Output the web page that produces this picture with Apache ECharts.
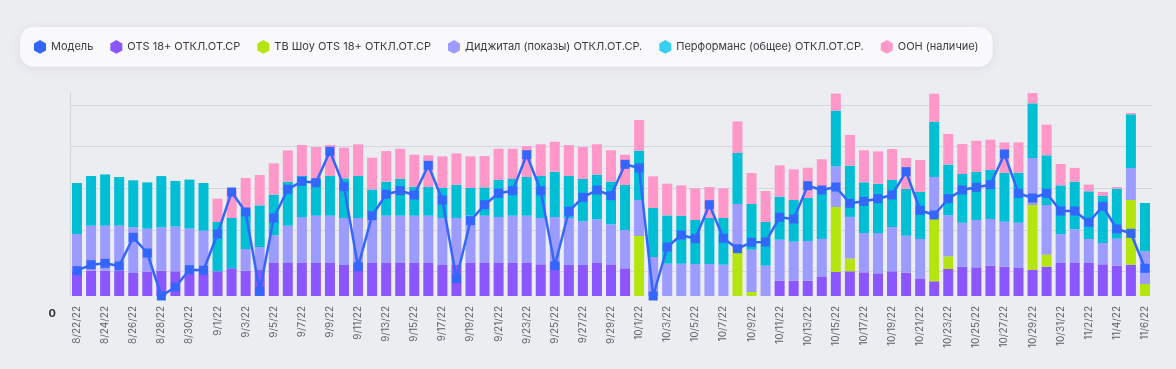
<!DOCTYPE html>
<html><head><meta charset="utf-8">
<script src="https://cdn.jsdelivr.net/npm/echarts@6/dist/echarts.min.js"></script>
<style>html,body{margin:0;padding:0;background:#ECEDF1;} #c{width:1176px;height:369px;}</style>
</head><body><div id="c"></div>
<script>
const dates = ['8/22/22','8/23/22','8/24/22','8/25/22','8/26/22','8/27/22','8/28/22','8/29/22','8/30/22','8/31/22',
'9/1/22','9/2/22','9/3/22','9/4/22','9/5/22','9/6/22','9/7/22','9/8/22','9/9/22','9/10/22',
'9/11/22','9/12/22','9/13/22','9/14/22','9/15/22','9/16/22','9/17/22','9/18/22','9/19/22','9/20/22',
'9/21/22','9/22/22','9/23/22','9/24/22','9/25/22','9/26/22','9/27/22','9/28/22','9/29/22','9/30/22',
'10/1/22','10/2/22','10/3/22','10/4/22','10/5/22','10/6/22','10/7/22','10/8/22','10/9/22','10/10/22',
'10/11/22','10/12/22','10/13/22','10/14/22','10/15/22','10/16/22','10/17/22','10/18/22','10/19/22','10/20/22',
'10/21/22','10/22/22','10/23/22','10/24/22','10/25/22','10/26/22','10/27/22','10/28/22','10/29/22','10/30/22',
'10/31/22','11/1/22','11/2/22','11/3/22','11/4/22','11/5/22','11/6/22'];

const ots = [24.7,25.3,25.3,25.3,23,24.3,25.3,24.7,22.7,22,
24.7,27.7,25.3,26,33,33,33,33,33,31,
32,33,33,33,33,33,31,31,33,33,
33,33,33,31.7,33,31,31,33,31,27.7,
0,0,0,0,0,0,0,0,0,0,
15.3,15.3,15.3,19,24,24.7,23.7,22.7,24.7,23.3,
17,14.7,27,29.3,28.7,30.3,29.3,28,26.3,29.3,
33,33,33,31.7,30.3,31.3,0];

const tvShow = [0,0,0,0,0,0,0,0,0,0,
0,0,0,0,0,0,0,0,0,0,
0,0,0,0,0,0,0,0,0,0,
0,0,0,0,0,0,0,0,0,0,
60,0,0,0,0,0,0,47,4,0,
0,0,0,0,65,12.7,0,0,0,0,
0,64,12.7,0,0,0,0,0,64.7,12,
0,0,0,0,0,64.7,12];

const digital = [37.3,45,45,45,45.7,43,43.3,44.7,44.7,43.3,
0,0,21.7,23,27.7,37.3,46,47.3,47.3,47,
46,47.3,47.3,47.3,47.3,47.3,47,47,47.3,47.3,
46,47.3,47.3,46.3,46,47,43.7,43.7,40.7,38.3,
36,39,32.3,32.3,32,32,31.3,45,42.3,30.3,
41,39,39.7,38,40.7,41.7,39.3,40.3,44.3,37,
40,40.3,41,44,47.3,46.7,45,45.3,47,49.7,
28.7,33.7,24,21.3,27,32,32.7];

const performance = [51,49.7,51.3,48.7,47,46.3,51.3,45.7,49,47.7,
49.3,50.3,40.3,41.7,40.7,44,41,37.3,39.7,39.7,
42,26.3,34,36.7,29,28.7,30,33.3,27.7,28.3,
37,36.7,38.7,42,45.3,42,42.3,44.7,42.7,45,
49.3,49,48.3,48,44,46,46.7,51,45.7,43.7,
43,41.7,43,49,55.7,51.3,50.7,49.3,47,46.7,
47,55.3,50.7,48.7,48,49,49,50,54.7,49.7,
49,47.7,47.7,47.3,50,53.7,48.3];

const ooh = [0,0,0,0,0,0,0,0,0,0,
23.3,28,30.7,30.3,31.3,31.3,31,31.3,31,30.7,
31.7,31.7,30.7,30.3,32,31.7,31.7,31.3,31.7,31.3,
31.3,30.3,31,31.7,30,31,32,30.3,31.3,30.3,
30.7,31.7,31.7,30.3,31.7,31,29.7,31.7,31,31,
31.3,30.7,30.3,30.7,17,30.7,32,32.3,31,31,
32,28,30.7,30,31.3,30.3,30.3,30.3,10.3,30.7,
21.3,13.7,6.7,3.7,1.7,1.3,0];

const model = [25.3,31.3,32.7,30,58.7,43,0,9,26.3,25.7,
62,104,84,4.7,78,106.7,114.7,113.3,144.7,109.3,
29.3,80.3,101.7,105.3,101,130.7,96,17.3,75.3,91.3,
102.7,105.3,141.3,105.3,30.3,84.7,98.7,106,100.3,131.7,
128,0,49,61,57.3,91.3,57.7,47.3,53.7,54,
78.7,77,110.3,106,109,92.7,94.7,97.3,101,124.3,
85.7,81,97.3,106,108.7,111.3,142,102.7,98,102.7,
85,85,73.7,89.7,67,62.7,27.7];

const names = ['Модель','OTS 18+ ОТКЛ.ОТ.СР','ТВ Шоу OTS 18+ ОТКЛ.ОТ.СР','Диджитал (показы) ОТКЛ.ОТ.СР.','Перформанс (общее) ОТКЛ.ОТ.СР.','ООН (наличие)'];
const colors = ['#3366FF','#8B55FF','#B4E50E','#9C9BFF','#00BFD5','#FF97C9'];
const legendColors = ['#3366FF','#8B55FF','#B4E50E','#9C9BFF','#38D0F0','#FF97C9'];

const hex = 'path://M50,0 L93.3,25 L93.3,75 L50,100 L6.7,75 L6.7,25 Z';
const chart = echarts.init(document.getElementById('c'), null, {renderer: 'canvas'});

function barSeries(i, data) {
  return {
    name: names[i], type: 'bar', stack: 'total', data: data,
    xAxisIndex: 0, yAxisIndex: 0, barWidth: 10,
    itemStyle: {color: colors[i]}, emphasis: {disabled: true}
  };
}

chart.setOption({
  backgroundColor: '#ECEDF1',
  animation: false,
  legend: {
    left: 20, top: 27, padding: [13, 14], itemGap: 17, itemWidth: 12, itemHeight: 14,
    backgroundColor: '#F9F9FB', borderRadius: 14,
    shadowBlur: 12, shadowColor: 'rgba(30,30,60,0.07)', shadowOffsetY: 2,
    textStyle: {fontFamily: 'Inter', fontSize: 11, color: '#3a3a44'},
    data: names.map((n, i) => ({name: n, icon: hex, itemStyle: {color: legendColors[i]}}))
  },
  grid: [
    {left: 70, right: 24, top: 93, bottom: 73},
    {left: 70, right: 24, top: 105, bottom: 55.6}
  ],
  xAxis: [
    {type: 'category', gridIndex: 0, data: dates,
     axisLine: {show: false}, axisTick: {show: false}, splitLine: {show: false},
     axisLabel: {rotate: 90, interval: 1, fontSize: 10, color: '#5f6068', margin: 10, fontFamily: 'Inter'}},
    {type: 'value', gridIndex: 1, show: false, min: 0, max: 1}
  ],
  yAxis: [
    {type: 'value', gridIndex: 0, min: 0, max: 203,
     axisLine: {show: true, lineStyle: {color: '#d3d4d9', width: 1}},
     axisLabel: {show: false}, axisTick: {show: false}, splitLine: {show: false}},
    {type: 'value', gridIndex: 1, min: 0, max: 5, interval: 1,
     axisLine: {show: false}, axisTick: {show: false},
     splitLine: {show: true, showMinLine: false, lineStyle: {color: '#d6d7dc', width: 1}},
     axisLabel: {formatter: v => v === 0 ? '0' : '', fontWeight: 'bold', fontSize: 11, color: '#333', margin: 14, fontFamily: 'Inter'}}
  ],
  series: [
    barSeries(1, ots),
    barSeries(2, tvShow),
    barSeries(3, digital),
    barSeries(4, performance),
    barSeries(5, ooh),
    {name: names[0], type: 'line', data: model, xAxisIndex: 0, yAxisIndex: 0, z: 10,
     symbol: 'rect', symbolSize: 9, showAllSymbol: true, clip: false,
     lineStyle: {color: colors[0], width: 2.5}, itemStyle: {color: colors[0]},
     emphasis: {disabled: true}}
  ]
});
</script></body></html>
